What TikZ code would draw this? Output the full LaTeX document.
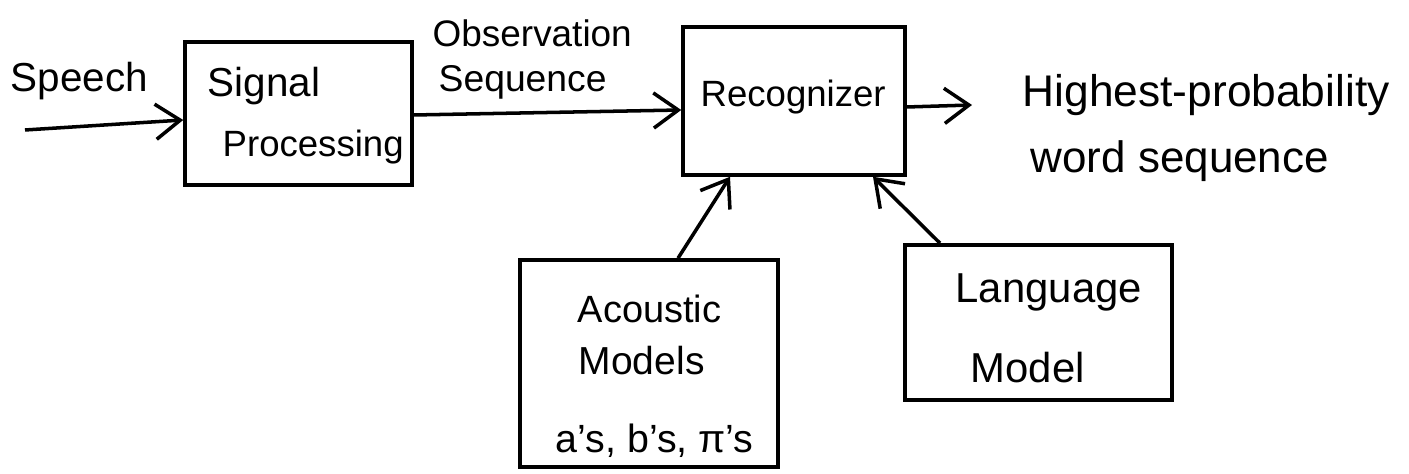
\documentclass[tikz,border=0pt]{standalone}
\usepackage{fontspec}
\setmainfont{Liberation Sans}
\usetikzlibrary{arrows.meta}
\begin{document}
\begin{tikzpicture}[x=0.01cm,y=-0.01cm,
  box/.style={draw, line width=1pt, inner sep=0pt},
  lbl/.style={inner sep=0pt, anchor=base west, font=\fontsize{#1}{#1}\selectfont},
  conn/.style={line width=1pt, -{Straight Barb[length=7pt,width=10pt]}}]
\useasboundingbox (0,0) rectangle (1409,474);
% boxes
\node[box, minimum width=227*0.01cm, minimum height=143*0.01cm] (sp) at (298.5,113.5) {};
\node[box, minimum width=222*0.01cm, minimum height=148*0.01cm] (rec) at (794,101) {};
\node[box, minimum width=258*0.01cm, minimum height=207*0.01cm] (ac) at (649,363.5) {};
\node[box, minimum width=267*0.01cm, minimum height=155*0.01cm] (lm) at (1038.5,322.5) {};
% texts
\node[lbl=11.5] (t1) at (10,92) {Speech};
\node[lbl=11.5] (t2) at (207,97) {Signal};
\node[lbl=10.4] (t3) at (222,157) {Processing};
\node[lbl=10.5] (t4) at (432,47) {Observation};
\node[lbl=10.6] (t5) at (438,92) {Sequence};
\node[lbl=10.4] (t6) at (700,107) {Recognizer};
\node[lbl=12.6] (t7) at (1022,107) {Highest-probability};
\node[lbl=12.5] (t8) at (1030,173) {word sequence};
\node[lbl=10.8] (t9) at (577,323) {Acoustic};
\node[lbl=11.1] (t10) at (578,375) {Models};
\node[lbl=11.2] (t11) at (555,453) {a's, b's, π's};
\node[lbl=11.9] (t12) at (955,303) {Language};
\node[lbl=11.9] (t13) at (970,383) {Model};
% connectors
\coordinate (in) at (25,130);
\coordinate (out) at (972,105);
\draw[conn] (in) -- (sp.west |- 0,120);
\draw[conn] (sp.east |- 0,115) -- (rec.west |- 0,110);
\draw[conn] (rec.east |- 0,107) -- (out);
\draw[conn] (ac.north -| 678,0) -- (rec.south -| 730,0);
\draw[conn] (lm.north -| 940,0) -- (rec.south -| 873,0);
\end{tikzpicture}
\end{document}
